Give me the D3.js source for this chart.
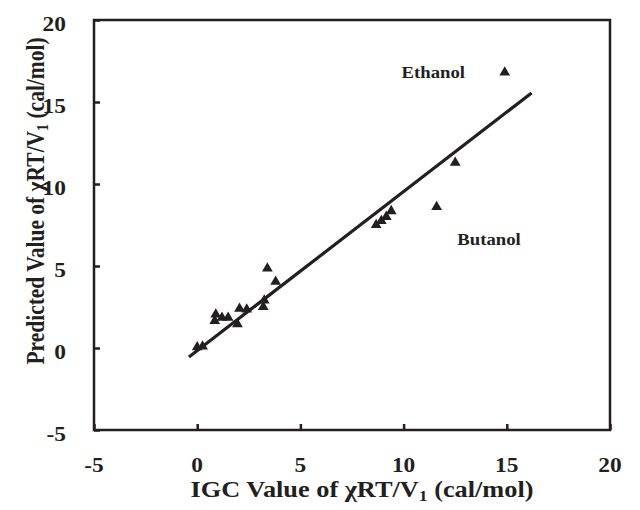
<!DOCTYPE html>
<html>
<head>
<meta charset="utf-8">
<script src="https://cdn.jsdelivr.net/npm/d3@7"></script>
<style>
  body { margin: 0; background: #fff; }
  text { font-family: "Liberation Serif", "Times New Roman", serif; font-weight: bold; fill: #231f20; }
</style>
</head>
<body>
<script>
// IGC vs predicted chi values
var igcValues = [0.0, 0.26, 0.9, 0.85, 1.2, 1.5, 1.95, 2.05, 2.4, 3.2, 3.25, 3.8, 3.4,
                 8.67, 8.92, 9.16, 9.4, 11.6, 12.5, 14.9];
var predValues = [0.05, 0.1, 2.05, 1.65, 1.85, 1.85, 1.45, 2.4, 2.35, 2.5, 2.9, 4.05, 4.85,
                  7.5, 7.75, 8.0, 8.35, 8.6, 11.3, 16.8];
// fitted line end points
var fitX = [-0.4, 16.2];
var fitY = [-0.55, 15.55];
var tickVals = [-5, 0, 5, 10, 15, 20];
var notes = [{name: "Ethanol", x: 9.9, y: 16.45}, {name: "Butanol", x: 12.6, y: 6.3}];

var width = 640, height = 510;
var margin = {top: 20, right: 30, bottom: 80, left: 94};
var stretch = 1.17; // the figure's text is wider than it is tall

var svg = d3.select("body").append("svg")
    .attr("width", width)
    .attr("height", height);

var x = d3.scaleLinear().domain([-5, 20]).range([margin.left, width - margin.right]);
var y = d3.scaleLinear().domain([-5, 20]).range([height - margin.bottom, margin.top]);

// text helper: place at px,py and stretch horizontally
function label(px, py, size, anchor, extra) {
  return svg.append("text")
    .attr("transform", "translate(" + px + "," + py + ") scale(" + stretch + ",1)" + (extra || ""))
    .attr("text-anchor", anchor)
    .style("font-size", size + "px");
}

// frame
svg.append("rect")
  .attr("x", x(-5))
  .attr("y", y(20))
  .attr("width", x(20) - x(-5))
  .attr("height", y(-5) - y(20))
  .style("fill", "none")
  .style("stroke", "#231f20")
  .style("stroke-width", 2.5);

// inner ticks
var xAxis = d3.axisBottom(x).tickValues(tickVals).tickSize(-6).tickFormat("");
var yAxis = d3.axisLeft(y).tickValues(tickVals).tickSize(-6).tickFormat("");

svg.append("g")
  .attr("transform", "translate(0," + y(-5) + ")")
  .call(xAxis);
svg.append("g")
  .attr("transform", "translate(" + x(-5) + ",0)")
  .call(yAxis);
svg.selectAll(".domain").remove();
svg.selectAll(".tick line").style("stroke", "#231f20").style("stroke-width", 2.5);

// tick labels
tickVals.forEach(function(d) {
  label(x(d), y(-5) + 42, 20, "middle").text(d);
  label(66, y(d) + 11, 20, "end").text(d);
});

// fit line
svg.append("line")
  .attr("x1", x(fitX[0])).attr("y1", y(fitY[0]))
  .attr("x2", x(fitX[1])).attr("y2", y(fitY[1]))
  .style("stroke", "#231f20")
  .style("stroke-width", 3.2);

// points
var tri = d3.symbol().type(d3.symbolTriangle).size(50);
svg.selectAll(".pt")
  .data(igcValues).enter().append("path")
  .attr("class", "pt")
  .attr("d", tri)
  .attr("transform", function(d, i) { return "translate(" + x(d) + "," + y(predValues[i]) + ")"; })
  .style("fill", "#231f20");

// labels for alcohols
notes.forEach(function(d) {
  label(x(d.x), y(d.y), 16, "start").text(d.name);
});

// axis titles
var xt = label(362, 497, 22.5, "middle");
xt.append("tspan").text("IGC Value of \u03c7RT/V");
xt.append("tspan").attr("baseline-shift", "-25%").style("font-size", "15px").text("1");
xt.append("tspan").text(" (cal/mol)");

var yt = label(44, 201, 21.5, "middle", " rotate(-90)");
yt.append("tspan").text("Predicted Value of \u03c7RT/V");
yt.append("tspan").attr("baseline-shift", "-25%").style("font-size", "14px").text("1");
yt.append("tspan").text(" (cal/mol)");
</script>
</body>
</html>
